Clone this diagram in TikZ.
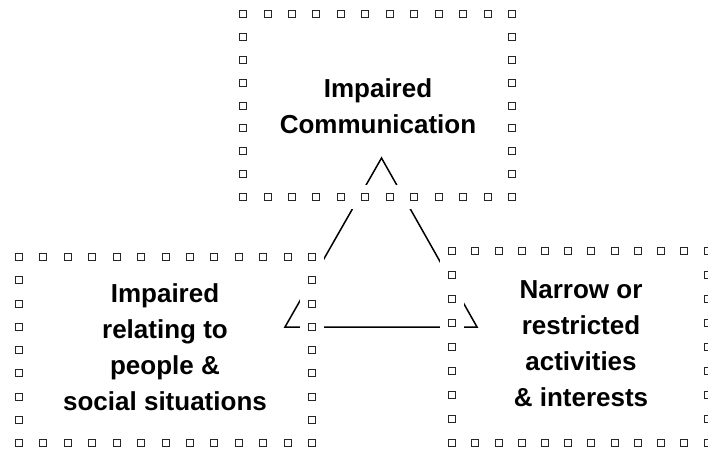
\documentclass[tikz,border=0pt]{standalone}
\usepackage{fontspec}
\setmainfont{Liberation Sans}

% frame of little squares: x0 y0 x1 y1 columns rows
\newcommand{\dotframe}[6]{%
  \draw[halo] (#1,#2) rectangle (#3,#4);
  \pgfmathtruncatemacro{\ncol}{#5-1}
  \pgfmathtruncatemacro{\nrow}{#6-1}
  \foreach \i in {0,...,\ncol} {
    \pgfmathsetmacro{\xx}{#1+(#3-#1)*\i/\ncol}
    \draw[dot] (\xx-3.5,#2-3.5) rectangle ++(7,7);
    \draw[dot] (\xx-3.5,#4-3.5) rectangle ++(7,7);
  }
  \foreach \j in {1,...,\nrow} {
    \pgfmathsetmacro{\yy}{#2+(#4-#2)*\j/\nrow}
    \draw[dot] (#1-3.5,\yy-3.5) rectangle ++(7,7);
    \draw[dot] (#3-3.5,\yy-3.5) rectangle ++(7,7);
  }
}

\begin{document}
\begin{tikzpicture}[x=1pt, y=-1pt,
    main/.style = {align=center, inner sep=0pt, font=\bfseries\fontsize{26}{36}\selectfont},
    dot/.style = {draw=black!85, fill=white, line width=0.9pt},
    halo/.style = {draw=white, line width=24pt, line cap=square, line join=miter}]
    \useasboundingbox (0,0) rectangle (708,454);
    % triangle behind the frames
    \coordinate (apex) at (381.5,158);
    \coordinate (lcorner) at (285,327);
    \coordinate (rcorner) at (477,327);
    \draw[line width=1.5pt, line join=miter] (apex) -- (lcorner) -- (rcorner) -- cycle;
    % the three frames
    \dotframe{243}{14}{512}{197}{12}{9}
    \dotframe{19}{257}{312}{443}{13}{9}
    \dotframe{452}{251}{707.5}{443}{12}{9}
    % texts
    \node[main] (comm) at (378,106) {Impaired\\Communication};
    \node[main] (social) at (165,347) {Impaired\\relating to\\people \&\\social situations};
    \node[main] (narrow) at (581,344) {Narrow or\\restricted\\activities\\\& interests};
\end{tikzpicture}
\end{document}
